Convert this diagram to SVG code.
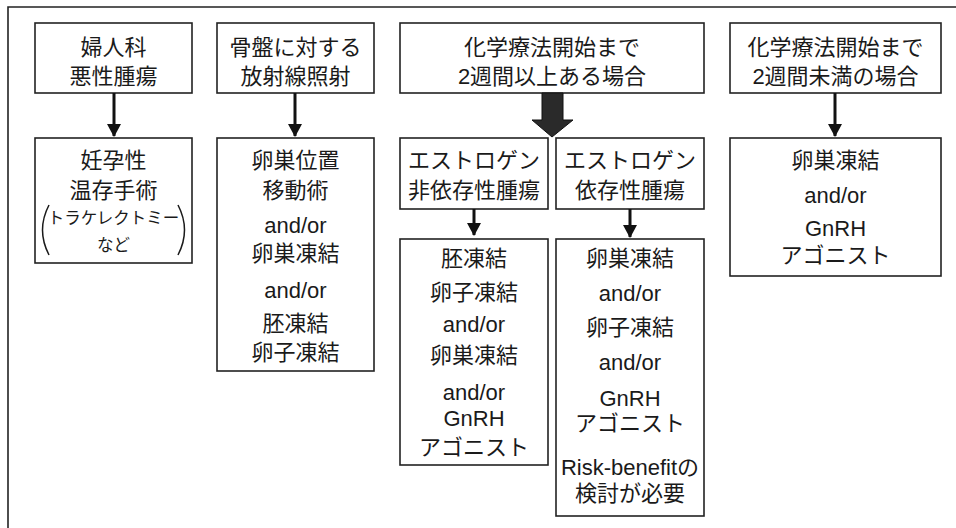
<svg xmlns="http://www.w3.org/2000/svg" width="956" height="528" viewBox="0 0 956 528">
<defs>
<style>
.box{fill:#fff;stroke:#222;stroke-width:1.6}
.t{font-family:"Liberation Sans","Noto Sans CJK JP",sans-serif;font-size:22px;fill:#1a1a1a;text-anchor:middle}
.s{font-size:16.5px}
.ln{stroke:#111;stroke-width:3;fill:none}
.hd{fill:#111}
.frame{fill:none;stroke:#222;stroke-width:1.6}
</style>
<marker id="ah" viewBox="0 0 13 14" refX="12" refY="7" markerWidth="13" markerHeight="14" markerUnits="userSpaceOnUse" orient="auto">
<path d="M0 0 L13 7 L0 14 Z" class="hd"/>
</marker>
</defs>
<rect width="956" height="528" fill="#fff"/>
<path class="frame" d="M8 528 V7 H956"/>

<g id="n1">
<rect class="box" x="35" y="23" width="157" height="70"/>
<text class="t" x="113.5" y="55">婦人科</text>
<text class="t" x="113.5" y="84">悪性腫瘍</text>
</g>
<g id="n2">
<rect class="box" x="217" y="23" width="157" height="70"/>
<text class="t" x="295.5" y="55">骨盤に対する</text>
<text class="t" x="295.5" y="84">放射線照射</text>
</g>
<g id="n3">
<rect class="box" x="400" y="23" width="304" height="70"/>
<text class="t" x="552" y="55">化学療法開始まで</text>
<text class="t" x="552" y="84">2週間以上ある場合</text>
</g>
<g id="n4">
<rect class="box" x="730" y="23" width="211" height="70"/>
<text class="t" x="835.5" y="55">化学療法開始まで</text>
<text class="t" x="835.5" y="84">2週間未満の場合</text>
</g>

<g id="n1b">
<rect class="box" x="35" y="138" width="157" height="125"/>
<text class="t" x="113.5" y="168">妊孕性</text>
<text class="t" x="113.5" y="198">温存手術</text>
<text class="t s" x="113.5" y="224">トラケレクトミー</text>
<text class="t s" x="113.5" y="251">など</text>
<path d="M49 205 Q36 230 49 255" fill="none" stroke="#1a1a1a" stroke-width="1.5"/>
<path d="M178 205 Q191 230 178 255" fill="none" stroke="#1a1a1a" stroke-width="1.5"/>
</g>
<g id="n2b">
<rect class="box" x="217" y="138" width="157" height="233"/>
<text class="t" x="295.5" y="168">卵巣位置</text>
<text class="t" x="295.5" y="198">移動術</text>
<text class="t" x="295.5" y="233">and/or</text>
<text class="t" x="295.5" y="261">卵巣凍結</text>
<text class="t" x="295.5" y="298">and/or</text>
<text class="t" x="295.5" y="331">胚凍結</text>
<text class="t" x="295.5" y="360">卵子凍結</text>
</g>
<g id="n3a">
<rect class="box" x="400" y="138" width="148" height="71"/>
<text class="t" x="474" y="168">エストロゲン</text>
<text class="t" x="474" y="198">非依存性腫瘍</text>
</g>
<g id="n3b">
<rect class="box" x="556" y="138" width="148" height="71"/>
<text class="t" x="630" y="168">エストロゲン</text>
<text class="t" x="630" y="198">依存性腫瘍</text>
</g>
<g id="n3a2">
<rect class="box" x="400" y="239" width="148" height="226"/>
<text class="t" x="474" y="266">胚凍結</text>
<text class="t" x="474" y="300">卵子凍結</text>
<text class="t" x="474" y="332">and/or</text>
<text class="t" x="474" y="363">卵巣凍結</text>
<text class="t" x="474" y="400">and/or</text>
<text class="t" x="474" y="426">GnRH</text>
<text class="t" x="474" y="455">アゴニスト</text>
</g>
<g id="n3b2">
<rect class="box" x="556" y="239" width="148" height="277"/>
<text class="t" x="630" y="266">卵巣凍結</text>
<text class="t" x="630" y="301">and/or</text>
<text class="t" x="630" y="335">卵子凍結</text>
<text class="t" x="630" y="370">and/or</text>
<text class="t" x="630" y="406">GnRH</text>
<text class="t" x="630" y="431">アゴニスト</text>
<text class="t" x="630" y="475">Risk-benefitの</text>
<text class="t" x="630" y="501">検討が必要</text>
</g>
<g id="n4b">
<rect class="box" x="730" y="138" width="211" height="138"/>
<text class="t" x="835.5" y="168">卵巣凍結</text>
<text class="t" x="835.5" y="203">and/or</text>
<text class="t" x="835.5" y="236">GnRH</text>
<text class="t" x="835.5" y="263">アゴニスト</text>
</g>

<g id="connectors">
<line class="ln" x1="114" y1="93" x2="114" y2="136" marker-end="url(#ah)"/>
<line class="ln" x1="295" y1="93" x2="295" y2="136" marker-end="url(#ah)"/>
<line class="ln" x1="835" y1="93" x2="835" y2="136" marker-end="url(#ah)"/>
<line class="ln" x1="474" y1="209" x2="474" y2="235" marker-end="url(#ah)"/>
<line class="ln" x1="630" y1="209" x2="630" y2="237" marker-end="url(#ah)"/>
<path d="M542 93 H563 V120 H573 L552 137 L532 120 H542 Z" fill="#2a2a2a" stroke="#111" stroke-width="1"/>
</g>
</svg>
